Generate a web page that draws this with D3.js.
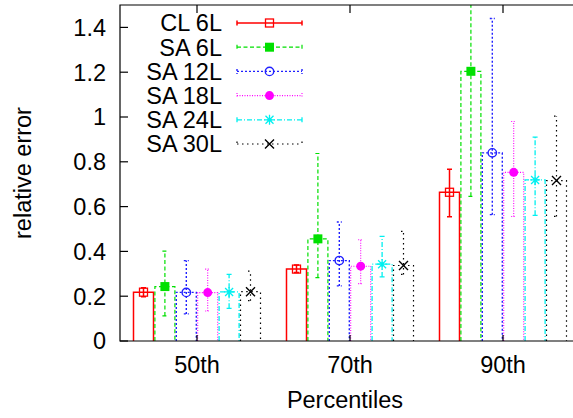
<!DOCTYPE html>
<html>
<head>
<meta charset="utf-8">
<script src="https://cdn.jsdelivr.net/npm/d3@7"></script>
<style>
  body { margin: 0; background: #fff; }
  text { font-family: "Liberation Sans", Arial, sans-serif; fill: #000; }
</style>
</head>
<body>
<svg id="chart" width="573" height="418"></svg>
<script>
"use strict";

// percentile groups on the x axis
var categories = ["50th", "70th", "90th"];
var seriesNames = ["CL 6L", "SA 6L", "SA 12L", "SA 18L", "SA 24L", "SA 30L"];

// mean relative error, and the low / high ends of each error bar
var cl6Values = [0.218, 0.321, 0.664];
var cl6Low = [0.198, 0.306, 0.555];
var cl6High = [0.238, 0.339, 0.767];

var sa6Values = [0.243, 0.456, 1.204];
var sa6Low = [0.112, 0.283, 0.646];
var sa6High = [0.401, 0.837, 1.70];

var sa12Values = [0.217, 0.359, 0.840];
var sa12Low = [0.121, 0.246, 0.564];
var sa12High = [0.359, 0.531, 1.440];

var sa18Values = [0.216, 0.334, 0.753];
var sa18Low = [0.134, 0.256, 0.556];
var sa18High = [0.321, 0.452, 0.980];

var sa24Values = [0.219, 0.343, 0.719];
var sa24Low = [0.146, 0.286, 0.561];
var sa24High = [0.297, 0.467, 0.910];

var sa30Values = [0.220, 0.337, 0.716];
var sa30Low = [0.180, 0.297, 0.556];
var sa30High = [0.312, 0.489, 1.004];

var yTicks = [0, 0.2, 0.4, 0.6, 0.8, 1, 1.2, 1.4];

var series = [
  {name: seriesNames[0], values: cl6Values, low: cl6Low, high: cl6High, color: "#ff0000", dash: null, width: 1.5, marker: "openSquare"},
  {name: seriesNames[1], values: sa6Values, low: sa6Low, high: sa6High, color: "#00e000", dash: "4,2.5", width: 1.2, marker: "filledSquare"},
  {name: seriesNames[2], values: sa12Values, low: sa12Low, high: sa12High, color: "#2020ff", dash: "2,2", width: 1.4, marker: "openCircle"},
  {name: seriesNames[3], values: sa18Values, low: sa18Low, high: sa18High, color: "#ff00ff", dash: "1,1.5", width: 1.1, marker: "filledCircle"},
  {name: seriesNames[4], values: sa24Values, low: sa24Low, high: sa24High, color: "#00f0f0", dash: "5,2,1,2", width: 1.3, marker: "star"},
  {name: seriesNames[5], values: sa30Values, low: sa30Low, high: sa30High, color: "#000000", dash: "1.5,3.5", width: 1.2, marker: "cross"}
];

var svg = d3.select("#chart");
var plotLeft = 120, plotTop = 5, plotBottom = 341, plotRight = 579;

var x0 = d3.scaleBand().domain(categories).range([120.5, 579.5]).paddingInner(0).paddingOuter(0);
var x1 = d3.scaleBand().domain(seriesNames).range([-64.2, 64.2]).paddingInner(0.0654).paddingOuter(0.0327);
var y = d3.scaleLinear().domain([0, 1.5]).range([plotBottom, plotTop]);

svg.append("defs").append("clipPath").attr("id", "plotClip")
  .append("rect").attr("x", plotLeft).attr("y", plotTop)
  .attr("width", plotRight - plotLeft).attr("height", plotBottom - plotTop);

// draw a marker symbol centred on (cx, cy)
function drawMarker(g, type, cx, cy, color) {
  if (type === "openSquare") {
    g.append("rect").attr("x", cx - 4).attr("y", cy - 4).attr("width", 8).attr("height", 8)
      .attr("fill", "none").attr("stroke", color).attr("stroke-width", 1.3);
  } else if (type === "filledSquare") {
    g.append("rect").attr("x", cx - 4.5).attr("y", cy - 4.5).attr("width", 9).attr("height", 9)
      .attr("fill", color);
  } else if (type === "openCircle") {
    g.append("circle").attr("cx", cx).attr("cy", cy).attr("r", 4.2)
      .attr("fill", "none").attr("stroke", color).attr("stroke-width", 1.4);
  } else if (type === "filledCircle") {
    g.append("circle").attr("cx", cx).attr("cy", cy).attr("r", 4.5).attr("fill", color);
  } else if (type === "star") {
    var s = 5;
    var p = "M" + (cx - s) + "," + cy + "H" + (cx + s) +
      "M" + cx + "," + (cy - s) + "V" + (cy + s) +
      "M" + (cx - s * 0.8) + "," + (cy - s * 0.8) + "L" + (cx + s * 0.8) + "," + (cy + s * 0.8) +
      "M" + (cx - s * 0.8) + "," + (cy + s * 0.8) + "L" + (cx + s * 0.8) + "," + (cy - s * 0.8);
    g.append("path").attr("d", p).attr("stroke", color).attr("stroke-width", 1.3).attr("fill", "none");
  } else if (type === "cross") {
    var c = 4.5;
    var q = "M" + (cx - c) + "," + (cy - c) + "L" + (cx + c) + "," + (cy + c) +
      "M" + (cx - c) + "," + (cy + c) + "L" + (cx + c) + "," + (cy - c);
    g.append("path").attr("d", q).attr("stroke", color).attr("stroke-width", 1.4).attr("fill", "none");
  }
}

var plot = svg.append("g").attr("clip-path", "url(#plotClip)");

series.forEach(function(s) {
  var g = plot.append("g");
  categories.forEach(function(cat, i) {
    var bx = x0(cat) + x0.bandwidth() / 2 + x1(s.name);
    var bw = x1.bandwidth();
    var cx = bx + bw / 2;
    var vy = y(s.values[i]);
    // open bar: left, top and right edges
    g.append("path")
      .attr("d", "M" + bx + "," + plotBottom + "V" + vy + "H" + (bx + bw) + "V" + plotBottom)
      .attr("fill", "none")
      .attr("stroke", s.color)
      .attr("stroke-width", s.width)
      .attr("stroke-dasharray", s.dash);
    // error bar with caps
    var yl = y(s.low[i]), yh = y(s.high[i]);
    g.append("path")
      .attr("d", "M" + cx + "," + yl + "V" + yh +
        "M" + (cx - 2.5) + "," + yl + "H" + (cx + 2.5) +
        "M" + (cx - 2.5) + "," + yh + "H" + (cx + 2.5))
      .attr("fill", "none")
      .attr("stroke", s.color)
      .attr("stroke-width", s.width)
      .attr("stroke-dasharray", s.dash);
    drawMarker(g, s.marker, cx, vy, s.color);
  });
});

// frame and ticks
var frame = svg.append("g").attr("stroke", "#000").attr("stroke-width", 1.2).attr("fill", "none");
frame.append("path").attr("d", "M" + plotRight + "," + plotTop + "H" + plotLeft + "V" + plotBottom + "H" + plotRight);

yTicks.forEach(function(t) {
  frame.append("line").attr("x1", plotLeft).attr("x2", plotLeft + 8).attr("y1", y(t)).attr("y2", y(t));
  svg.append("text")
    .attr("x", 106).attr("y", y(t))
    .attr("dy", "0.36em")
    .attr("text-anchor", "end")
    .style("font-size", "23.5px")
    .text(d3.format("")(t));
});

categories.forEach(function(cat) {
  var cx = x0(cat) + x0.bandwidth() / 2;
  frame.append("line").attr("x1", cx).attr("x2", cx).attr("y1", plotBottom).attr("y2", plotBottom - 6);
  frame.append("line").attr("x1", cx).attr("x2", cx).attr("y1", plotTop).attr("y2", plotTop + 8);
  svg.append("text")
    .attr("x", cx).attr("y", 373)
    .attr("text-anchor", "middle")
    .style("font-size", "23.5px")
    .text(cat);
});

svg.append("text")
  .attr("x", 345).attr("y", 408)
  .attr("text-anchor", "middle")
  .style("font-size", "23.5px")
  .text("Percentiles");

svg.append("text")
  .attr("transform", "translate(31,173) rotate(-90)")
  .attr("text-anchor", "middle")
  .style("font-size", "23.5px")
  .text("relative error");

// legend
var legend = svg.append("g");
series.forEach(function(s, i) {
  var ly = 23 + i * 24.2;
  legend.append("text")
    .attr("x", 222).attr("y", ly)
    .attr("dy", "0.36em")
    .attr("text-anchor", "end")
    .style("font-size", "23.5px")
    .text(s.name);
  legend.append("path")
    .attr("d", "M237," + ly + "H302" +
      "M237," + (ly - 2.5) + "V" + (ly + 2.5) +
      "M302," + (ly - 2.5) + "V" + (ly + 2.5))
    .attr("fill", "none")
    .attr("stroke", s.color)
    .attr("stroke-width", s.width)
    .attr("stroke-dasharray", s.dash);
  drawMarker(legend, s.marker, 269.5, ly, s.color);
});
</script>
</body>
</html>
